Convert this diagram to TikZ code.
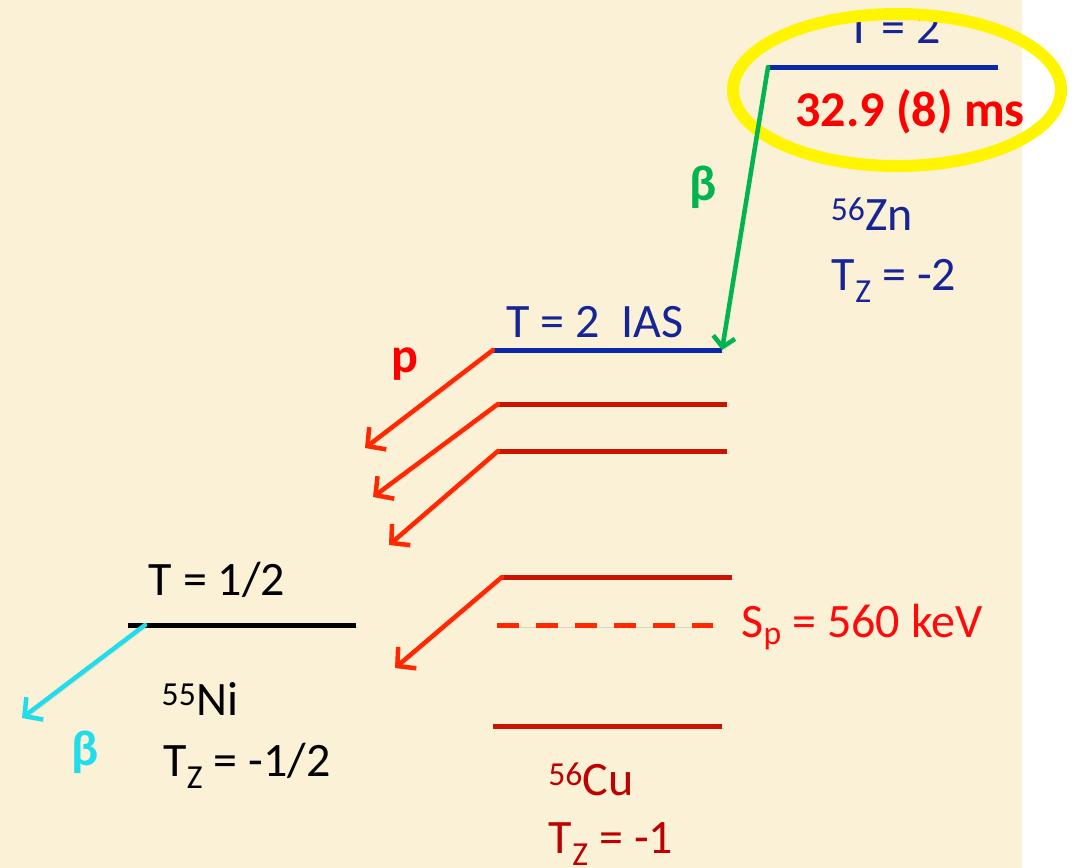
\documentclass[tikz,border=0pt]{standalone}
\usepackage{fontspec}
\setmainfont{Carlito}
\usetikzlibrary{arrows.meta}

\definecolor{parch}{RGB}{250,241,214}
\definecolor{znblue}{RGB}{22,36,150}
\definecolor{lvlblue}{RGB}{10,40,170}
\definecolor{cured}{RGB}{200,20,0}
\definecolor{cutext}{RGB}{190,0,0}
\definecolor{pred}{RGB}{255,40,0}
\definecolor{spred}{RGB}{255,10,10}
\definecolor{betagreen}{RGB}{0,180,80}
\definecolor{betacyan}{RGB}{35,220,235}
\definecolor{ringyellow}{RGB}{255,245,0}

\tikzset{
  shadowed/.style={preaction={draw=black!30, opacity=0.45,
      transform canvas={shift={(1.5pt,-2.5pt)}}}},
  lvl/.style={line width=5pt, shadowed},
  decay/.style={line width=4.5pt, line cap=round,
      -{Straight Barb[length=13pt,width=28pt]}},
  lbl/.style={anchor=base, inner sep=0pt, font=\fontsize{48}{54}\selectfont},
  blbl/.style={lbl, font=\fontsize{50}{56}\selectfont\bfseries},
}

\begin{document}
\begin{tikzpicture}[x=1pt,y=-1pt]
  \useasboundingbox (0,0) rectangle (1077,868);
  \clip (0,0) rectangle (1077,868);
  \fill[parch] (0,0) rectangle (1022,868);
  \fill[white] (1022,0) rectangle (1077,868);

  % level ends
  \coordinate (zn-w) at (768,67);   \coordinate (zn-e) at (998,67);
  \coordinate (ias-w) at (493,350); \coordinate (ias-e) at (722,350);
  \coordinate (cu1-w) at (498,404); \coordinate (cu1-e) at (727,404);
  \coordinate (cu2-w) at (498,451); \coordinate (cu2-e) at (727,451);
  \coordinate (cu3-w) at (502,577); \coordinate (cu3-e) at (732,577);
  \coordinate (sp-w) at (497,625);  \coordinate (sp-e) at (713,625);
  \coordinate (cu0-w) at (493,726); \coordinate (cu0-e) at (722,726);
  \coordinate (ni-w) at (128,625);  \coordinate (ni-e) at (356,625);
  \coordinate (ni-b) at (145,625);
  % arrow ends
  \coordinate (p1) at (365,448);
  \coordinate (p2) at (373,497);
  \coordinate (p3) at (389,545);
  \coordinate (p4) at (395,668);
  \coordinate (bnu) at (22,718);

  % 56Zn
  \node[lbl, znblue] (tzn) at (894,43) {T = 2};
  \draw[lvl, lvlblue] (zn-w) -- (zn-e);
  \node[blbl, red] (half) at (910,126) {32.9 (8) ms};
  \draw[ringyellow, line width=12pt] (897,90) ellipse [x radius=164, y radius=76];
  \node[lbl, znblue] (zn) at (872,230) {\textsuperscript{56}Zn};
  \node[lbl, znblue] (tzzn) at (894,290) {T\textsubscript{Z} = -2};

  % 56Cu
  \node[lbl, znblue] (tias) at (595,337) {T = 2\ \ IAS};
  \draw[lvl, lvlblue] (ias-w) -- (ias-e);
  \draw[lvl, cured] (cu1-w) -- (cu1-e);
  \draw[lvl, cured] (cu2-w) -- (cu2-e);
  \draw[lvl, cured] (cu3-w) -- (cu3-e);
  \draw[lvl, pred, dash pattern=on 22pt off 17pt] (sp-w) -- (sp-e);
  \draw[lvl, cured] (cu0-w) -- (cu0-e);
  \node[lbl, spred] (sp) at (862,637) {S\textsubscript{p} = 560 keV};
  \node[lbl, cutext] (cu) at (591,795) {\textsuperscript{56}Cu};
  \node[lbl, cutext] (tzcu) at (611,853) {T\textsubscript{Z} = -1};

  % 55Ni
  \node[lbl, black] (tni) at (217,595) {T = 1/2};
  \draw[lvl, black] (ni-w) -- (ni-e);
  \node[lbl, black] (ni) at (200,715) {\textsuperscript{55}Ni};
  \node[lbl, black] (tzni) at (247,776) {T\textsubscript{Z} = -1/2};

  % decays
  \draw[decay, shadowed, betagreen, -{Straight Barb[length=10pt,width=22pt]}] (zn-w) -- (ias-e);
  \node[blbl, betagreen] (bzn) at (703,200) {β};
  \draw[decay, shadowed, pred] (ias-w) -- (p1);
  \draw[decay, shadowed, pred] (cu1-w) -- (p2);
  \draw[decay, shadowed, pred] (cu2-w) -- (p3);
  \draw[decay, shadowed, pred] (cu3-w) -- (p4);
  \node[blbl, red] (prot) at (405,372) {p};
  \draw[decay, shadowed, betacyan] (ni-b) -- (bnu);
  \node[blbl, betacyan] (bni) at (85,765) {β};
\end{tikzpicture}
\end{document}
